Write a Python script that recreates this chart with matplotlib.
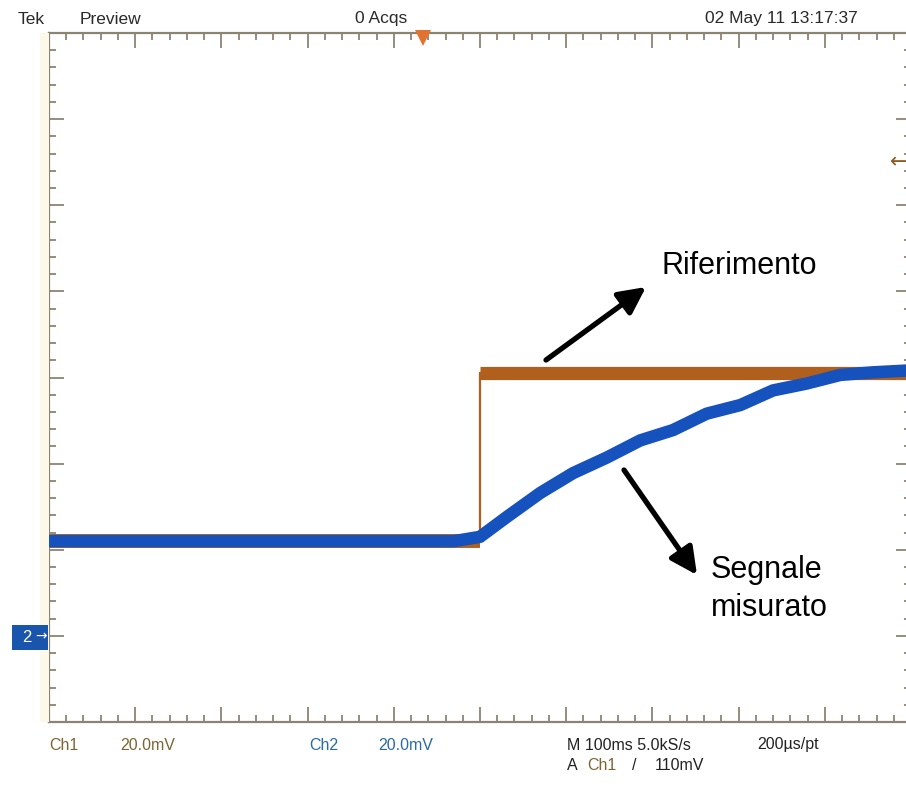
import matplotlib
matplotlib.use("Agg")
import matplotlib.pyplot as plt
from matplotlib.patches import Rectangle

# ---------------- data (time in ms, 100 ms/div; level in divisions) ----------------
ref_time_low = [0, 500]
ref_level_low = [2.10, 2.10]
ref_time_high = [500, 1000]
ref_level_high = [4.05, 4.05]
ref_step_time = 500
trigger_pos_ms = 434

meas_time = [0, 470, 500, 531, 570, 608, 647, 686, 724, 763, 802, 840, 879, 918, 956, 994, 1000]
meas_level = [2.10, 2.10, 2.15, 2.38, 2.66, 2.89, 3.07, 3.27, 3.39, 3.58, 3.68, 3.85, 3.93, 4.03, 4.06, 4.08, 4.08]

header_texts = ["Tek", "Preview", "0 Acqs", "02 May 11 13:17:37"]
ch1_label, ch1_scale = "Ch1", "20.0mV"
ch2_label, ch2_scale = "Ch2", "20.0mV"
time_info = "M 100ms 5.0kS/s"
rate_info = "200µs/pt"
trig_level = "110mV"
ann_ref = "Riferimento"
ann_meas = ["Segnale", "misurato"]

# ---------------- figure ----------------
W, H = 906, 785
fig = plt.figure(figsize=(W / 100, H / 100), dpi=100)
fig.patch.set_facecolor("white")

def fx(x):
    return x / W

def fy(y):
    return 1 - y / H

left, right, top, bottom = 49, 911, 33, 722
ax = fig.add_axes([fx(left), fy(bottom), (right - left) / W, (bottom - top) / H])
ax.set_xlim(0, 1000)
ax.set_ylim(0, 8)
ax.set_facecolor("white")

frame_col = "#8c8472"
for s in ax.spines.values():
    s.set_color(frame_col)
    s.set_linewidth(1.6)

ax.set_xticks(range(0, 1001, 100))
ax.set_xticks([i * 20 for i in range(51)], minor=True)
ax.set_yticks(range(0, 9))
ax.set_yticks([i * 0.2 for i in range(41)], minor=True)
ax.tick_params(which="both", direction="in", top=True, bottom=True, left=True, right=True,
               labelbottom=False, labelleft=False, color=frame_col, width=1.3)
ax.tick_params(which="major", length=11)
ax.tick_params(which="minor", length=5)

orange = "#b0601c"
blue = "#1652bd"

ax.plot(ref_time_low, ref_level_low, color=orange, lw=10, solid_capstyle="butt", zorder=2)
ax.plot(ref_time_high, ref_level_high, color=orange, lw=9.5, solid_capstyle="butt", zorder=2)
ax.plot([ref_step_time, ref_step_time], [ref_level_low[-1], ref_level_high[0]],
        color=orange, lw=1.6, zorder=2)
ax.plot(meas_time, meas_level, color=blue, lw=9, solid_capstyle="butt",
        solid_joinstyle="round", zorder=3)

# trigger position marker (top)
ax.plot([trigger_pos_ms], [7.94], marker="v", markersize=12, color="#e2732f",
        markeredgewidth=0, clip_on=False, zorder=10)

# cream band left of frame
fig.patches.append(Rectangle((fx(40), fy(bottom)), 9 / W, (bottom - top) / H,
                             transform=fig.transFigure, facecolor="#fdf9ea",
                             edgecolor="none", zorder=0))

# ---------------- header ----------------
hdr_font = dict(family=["Liberation Sans", "DejaVu Sans"], fontsize=12.5, color="#2a2a2a",
                va="center", ha="left")
fig.text(fx(18), fy(19), header_texts[0], **hdr_font)
fig.text(fx(80), fy(19), header_texts[1], **hdr_font)
fig.text(fx(355), fy(19), header_texts[2], **hdr_font)
fig.text(fx(705), fy(19), header_texts[3], **hdr_font)

# trigger level arrow on right
fig.text(fx(899), fy(162), "←", family=["DejaVu Sans"], fontsize=15, color="#8a5a22",
         ha="center", va="center")

# channel 2 ground marker
fig.patches.append(Rectangle((fx(12), fy(650)), 36 / W, 25 / H, transform=fig.transFigure,
                             facecolor="#1a55ad", edgecolor="none", zorder=5))
fig.text(fx(27), fy(637.5), "2", family=["Liberation Sans"], fontsize=12, color="white",
         ha="center", va="center", zorder=6)
fig.text(fx(41), fy(636.5), "→", family=["DejaVu Sans"], fontsize=10, color="white",
         ha="center", va="center", zorder=6)

# ---------------- bottom info ----------------
bot_font = dict(family=["Liberation Sans", "DejaVu Sans"], fontsize=11.5, va="center", ha="left")
ch1_col = "#7d6433"
ch2_col = "#2a6aaa"
fig.text(fx(49), fy(745), ch1_label, color=ch1_col, **bot_font)
fig.text(fx(120), fy(745), ch1_scale, color=ch1_col, **bot_font)
fig.text(fx(309), fy(745), ch2_label, color=ch2_col, **bot_font)
fig.text(fx(378), fy(745), ch2_scale, color=ch2_col, **bot_font)
fig.text(fx(567), fy(745), time_info, color="#222222", **bot_font)
fig.text(fx(757), fy(745), rate_info, color="#222222", **bot_font)
fig.text(fx(567), fy(765), "A", color="#222222", **bot_font)
fig.text(fx(587), fy(765), ch1_label, color=ch1_col, **bot_font)
fig.text(fx(632), fy(765), "/", color="#222222", **bot_font)
fig.text(fx(655), fy(765), trig_level, color="#222222", **bot_font)

# ---------------- annotations ----------------
arrow_kw = dict(arrowstyle="-|>,head_length=0.9,head_width=0.45", lw=3.8, color="black",
                mutation_scale=18, shrinkA=0, shrinkB=0)
ax.annotate("", xy=(646, H - 287), xytext=(546, H - 360), xycoords="figure pixels",
            textcoords="figure pixels", arrowprops=arrow_kw, zorder=10)
ax.annotate("", xy=(697, H - 575), xytext=(624, H - 470), xycoords="figure pixels",
            textcoords="figure pixels", arrowprops=arrow_kw, zorder=10)

ann_font = dict(family=["Liberation Sans", "DejaVu Sans"], fontsize=22, color="black",
                ha="left", va="center")
fig.text(fx(661), fy(266), ann_ref, **ann_font)
fig.text(fx(711), fy(570), ann_meas[0], **ann_font)
fig.text(fx(711), fy(608), ann_meas[1], **ann_font)

fig.savefig("out.png", dpi=100)
